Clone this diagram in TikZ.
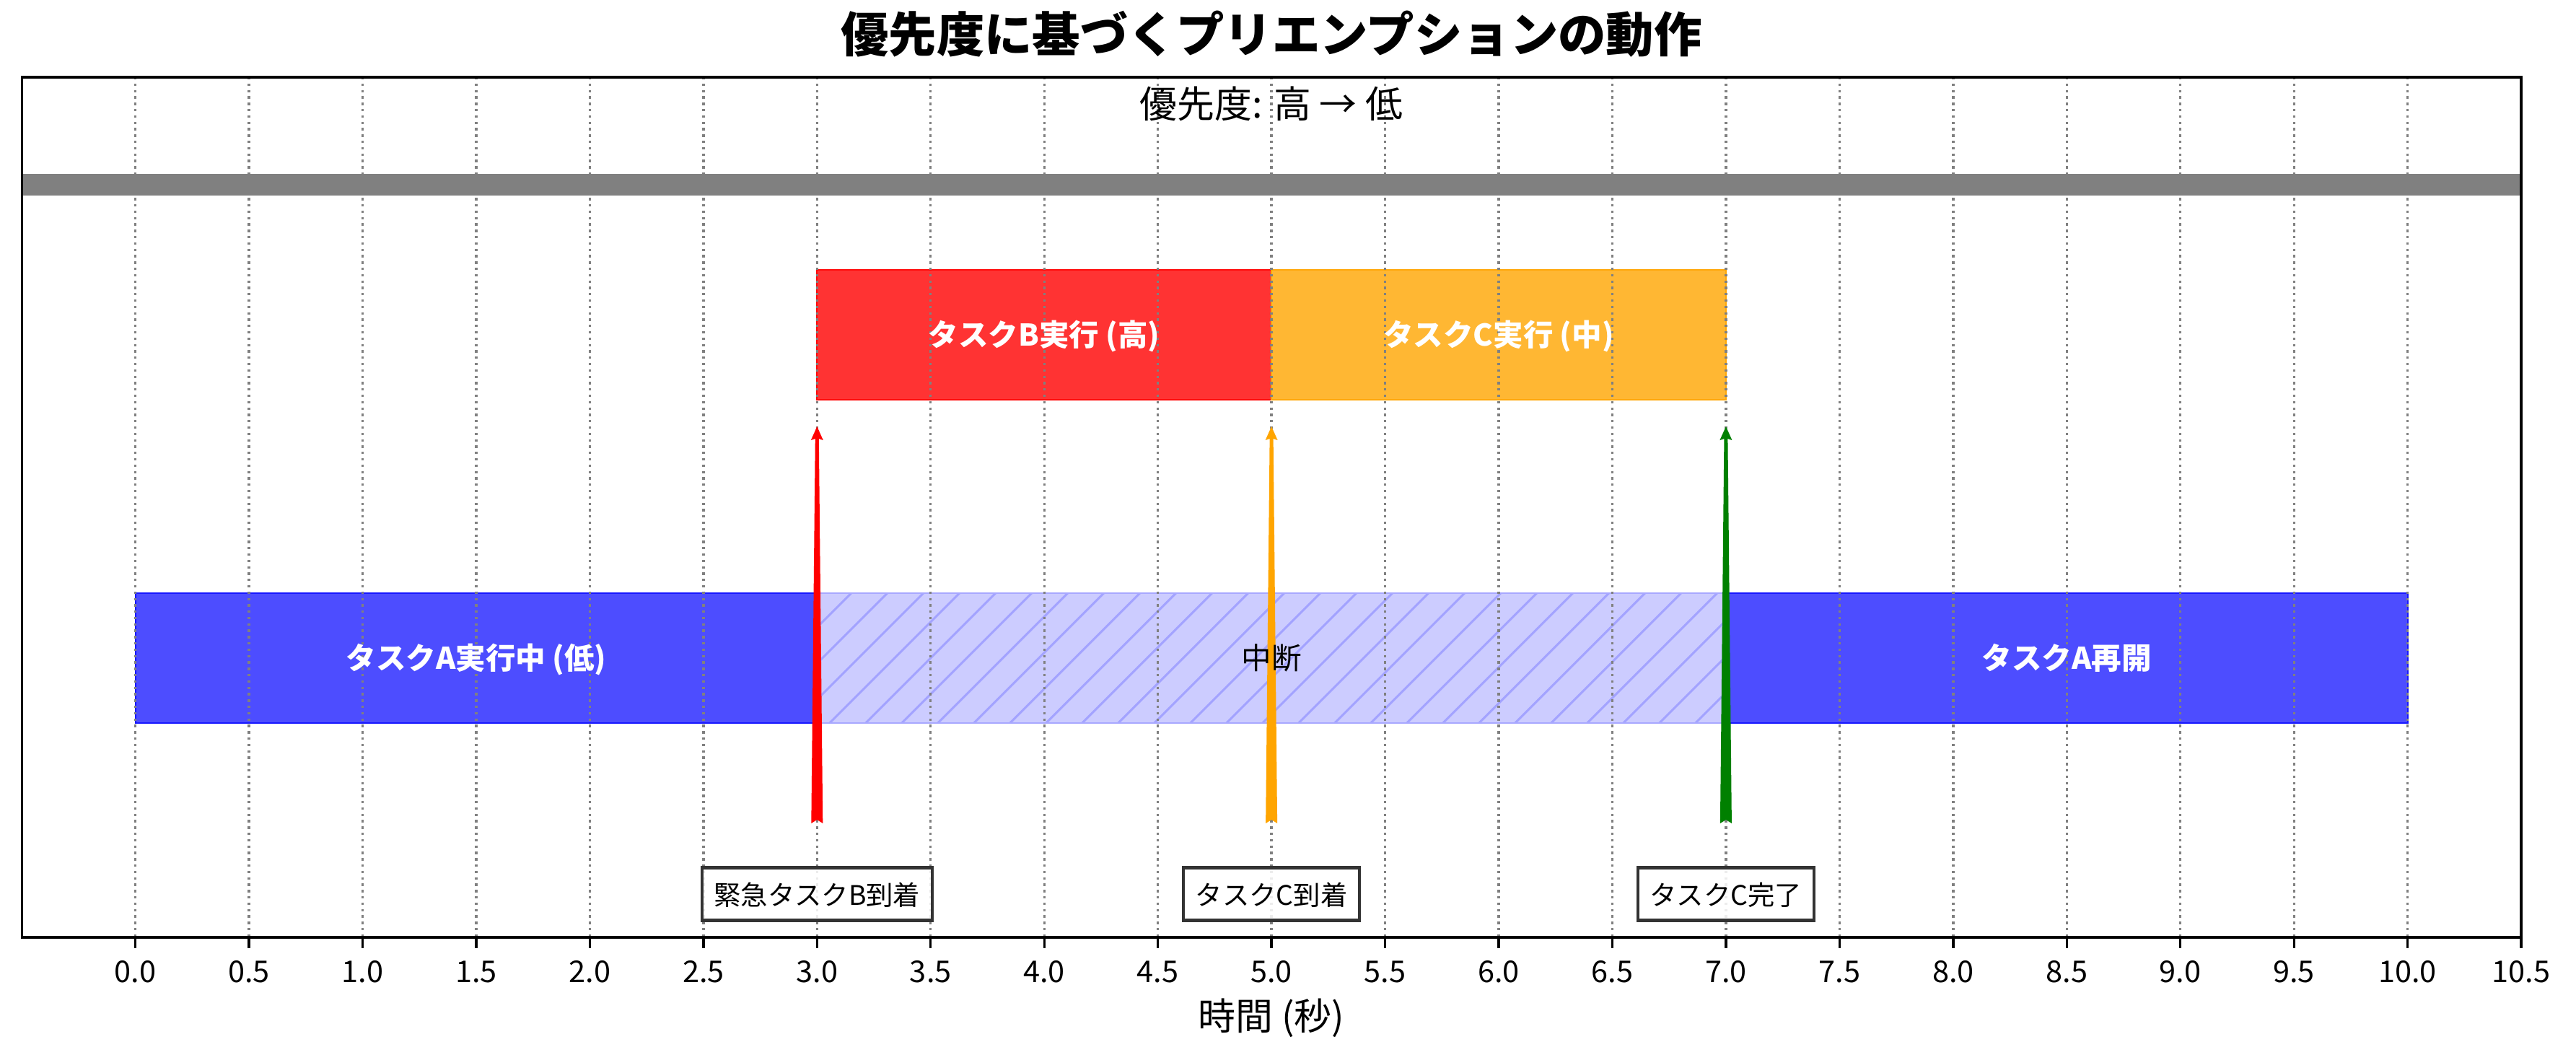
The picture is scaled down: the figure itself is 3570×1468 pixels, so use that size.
\documentclass[tikz,border=0pt]{standalone}
\usepackage{fontspec}
\setmainfont{Noto Sans CJK JP}
\usetikzlibrary{calc}
\definecolor{barblue}{HTML}{4D4DFF}
\definecolor{barblueedge}{HTML}{1717FF}
\definecolor{barred}{HTML}{FF3333}
\definecolor{barrededge}{HTML}{FF0A0A}
\definecolor{barorange}{HTML}{FFB733}
\definecolor{barorangeedge}{HTML}{FFA70A}
\definecolor{hatchfill}{HTML}{CCCCFF}
\definecolor{hatchedge}{HTML}{A8A8FF}
\definecolor{hatchcol}{HTML}{A3A3FF}
\definecolor{arrred}{HTML}{FF0000}
\definecolor{arrorange}{HTML}{FFA500}
\definecolor{arrgreen}{HTML}{008000}
\definecolor{gridcol}{HTML}{808080}
\newcommand\dx[1]{187.6+314.9*#1}
\newcommand\fancyarrow[3]{%
  \coordinate (#1s) at (#2,1141);
  \coordinate (#1e) at (#2,591);
  \fill[#3] ($(#1s)+(-8,0)$) -- ($(#1s)+(0,-5)$) -- ($(#1s)+(8,0)$)
    -- ($(#1e)+(2.5,17)$) -- ($(#1e)+(8.5,19)$) -- (#1e)
    -- ($(#1e)+(-8.5,19)$) -- ($(#1e)+(-2.5,17)$) -- cycle;}
\tikzset{
  barlabel/.style={text=white, font=\fontsize{10}{12}\selectfont\bfseries, inner sep=0pt, text height=0.88em, text depth=0.12em},
  plainlabel/.style={text=black, font=\fontsize{10}{12}\selectfont, inner sep=0pt, text height=0.88em, text depth=0.12em},
  eventbox/.style={draw=black!80, line width=1pt, fill=white, fill opacity=0.85, text opacity=1,
    font=\fontsize{9}{11}\selectfont, inner xsep=4pt, inner ysep=3.8pt, text height=0.88em, text depth=0.12em},
  ticklabel/.style={font=\fontsize{10}{12}\selectfont, inner sep=0pt, text height=0.73em, text depth=0pt},
  gridline/.style={draw=gridcol, line width=0.8pt, dash pattern=on 0.8pt off 1.32pt},
  hatchline/.style={draw=hatchcol, line width=0.75pt},
}
\begin{document}
\begin{tikzpicture}[x=0.0084667cm, y=-0.0084667cm]
\useasboundingbox (0,0) rectangle (3570,1468);
\fill[white] (0,0) rectangle (3570,1468);

% bars
\filldraw[fill=barblue, draw=barblueedge, line width=0.5pt] ({\dx{0}},822) rectangle ({\dx{3}},1002);
\fill[hatchfill] ({\dx{3}},822) rectangle ({\dx{7}},1002);
\begin{scope}
  \clip ({\dx{3}},822) rectangle ({\dx{7}},1002);
  \foreach \k in {-1,...,28} \draw[hatchline] ({1179.7+50*\k},822) -- ++(-180,180);
\end{scope}
\draw[hatchedge, line width=0.6pt] ({\dx{3}},822) rectangle ({\dx{7}},1002);
\filldraw[fill=barblue, draw=barblueedge, line width=0.5pt] ({\dx{7}},822) rectangle ({\dx{10}},1002);
\filldraw[fill=barred, draw=barrededge, line width=0.5pt] ({\dx{3}},374) rectangle ({\dx{5}},554);
\filldraw[fill=barorange, draw=barorangeedge, line width=0.5pt] ({\dx{5}},374) rectangle ({\dx{7}},554);

% grid
\foreach \t in {0,0.5,...,10} \draw[gridline] ({\dx{\t}},107) -- ({\dx{\t}},1299);

% priority band
\fill[gray] (30.2,241) rectangle (3494.1,271);

% arrows
\fancyarrow{aB}{1132.3}{arrred}
\fancyarrow{aC}{1762.1}{arrorange}
\fancyarrow{aD}{2391.9}{arrgreen}

% frame and ticks
\draw[line width=0.8pt] (30.2,107) rectangle (3494.1,1299);
\foreach \t [count=\i] in {0,0.5,...,10.5} {
  \draw[line width=0.8pt] ({\dx{\t}},1299) -- ({\dx{\t}},1314);
  \node[ticklabel] (tick\i) at ({\dx{\t}},1346) {\pgfmathprintnumber[fixed,fixed zerofill,precision=1,assume math mode=true]{\t}};
}

% bar labels
\node[barlabel] (lA1) at ({\dx{1.5}},912) {タスクA実行中 (低)};
\node[plainlabel] (lInt) at ({\dx{5}},912) {中断};
\node[barlabel] (lA2) at ({\dx{8.5}},912) {タスクA再開};
\node[barlabel] (lB) at ({\dx{4}},464) {タスクB実行 (高)};
\node[barlabel] (lC) at ({\dx{6}},464) {タスクC実行 (中)};

% event boxes
\node[eventbox] (eB) at ({\dx{3}},1239) {緊急タスクB到着};
\node[eventbox] (eC) at ({\dx{5}},1239) {タスクC到着};
\node[eventbox] (eD) at ({\dx{7}},1239) {タスクC完了};

% titles
\node[font=\fontsize{16}{19}\selectfont\bfseries, inner sep=0pt, text height=0.88em, text depth=0.12em] (title) at (1762,57) {優先度に基づくプリエンプションの動作};
\node[font=\fontsize{12.5}{15}\selectfont, inner sep=0pt, text height=0.88em, text depth=0.12em] (prio) at (1762,148) {優先度: 高 → 低};
\node[font=\fontsize{12.5}{15}\selectfont, inner sep=0pt, text height=0.88em, text depth=0.12em] (xlab) at (1762,1412) {時間 (秒)};
\end{tikzpicture}
\end{document}
